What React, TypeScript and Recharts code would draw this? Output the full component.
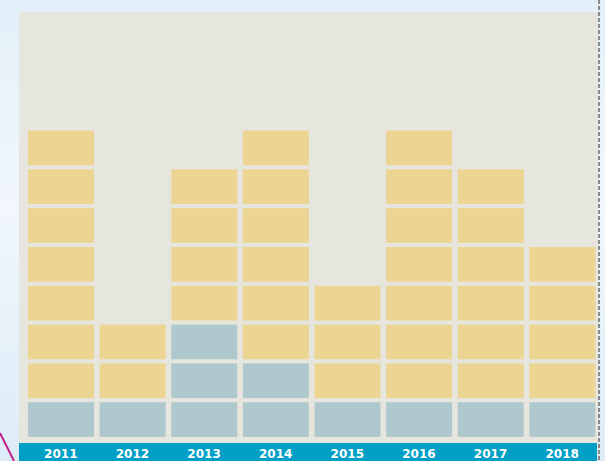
import React from "react";
import { BarChart, Bar, XAxis, YAxis } from "recharts";

const years = ["2011", "2012", "2013", "2014", "2015", "2016", "2017", "2018"];
const blueBlocks = [1, 1, 3, 2, 1, 1, 1, 1];
const yellowBlocks = [7, 2, 4, 6, 3, 7, 6, 4];

const data = years.map((y, i) => ({ year: y, blue: blueBlocks[i], yellow: yellowBlocks[i] }));

const BEIGE = "#e6e5de";
const YELLOW = "#ecd592";
const BLUE = "#afc8cd";
const STRIP = "#00a0c6";
const GAP = 4.2;

const makeBlocks = (key: string, fill: string) => (props: any) => {
  const { x, y, width, height, payload } = props;
  const n = payload[key];
  if (!n || !height) return <g />;
  const h = Math.abs(height);
  const top = height < 0 ? y + height : y;
  const unit = h / n;
  const rects = [];
  for (let i = 0; i < n; i++) {
    rects.push(
      <rect key={i} x={x} y={top + i * unit + GAP / 2} width={width} height={unit - GAP} fill={fill} />
    );
  }
  return <g>{rects}</g>;
};

const Tick = (props: any) => {
  const { x, y, payload } = props;
  return (
    <text
      x={x}
      y={y}
      dy={19.3}
      textAnchor="middle"
      fill="#ffffff"
      fontFamily="DejaVu Sans, Verdana, sans-serif"
      fontWeight="bold"
      fontSize={12}
    >
      {payload.value}
    </text>
  );
};

export default function App() {
  return (
    <div
      style={{
        position: "absolute",
        left: 0,
        top: 0,
        width: 605,
        height: 461,
        overflow: "hidden",
        background: "linear-gradient(180deg, #e3f0f9 0%, #f1f7fc 45%, #dcecf7 100%)",
      }}
    >
      <div style={{ position: "absolute", left: 19, top: 12, width: 579, height: 431, background: BEIGE }} />
      <div style={{ position: "absolute", left: 19, top: 442.7, width: 578, height: 19, background: STRIP }} />
      <svg width={605} height={461} style={{ position: "absolute", left: 0, top: 0 }}>
        <line x1={599} y1={0} x2={599} y2={461} stroke="#8a8a8a" strokeWidth={2} strokeDasharray="4 2" />
        <line x1={0} y1={433} x2={14} y2={461} stroke="#c41f8c" strokeWidth={2} />
      </svg>
      <div style={{ position: "absolute", left: 0, top: 0 }}>
        <BarChart
          width={605}
          height={461}
          data={data}
          margin={{ top: 12, left: 19, right: 7, bottom: 0 }}
          barSize={66}
        >
          <XAxis
            dataKey="year"
            height={22}
            axisLine={false}
            tickLine={false}
            tickSize={0}
            tickMargin={0}
            padding={{ left: 6, right: 0 }}
            interval={0}
            tick={<Tick />}
          />
          <YAxis hide domain={[0, 11]} />
          <Bar dataKey="blue" stackId="a" fill={BLUE} isAnimationActive={false} shape={makeBlocks("blue", BLUE)} />
          <Bar dataKey="yellow" stackId="a" fill={YELLOW} isAnimationActive={false} shape={makeBlocks("yellow", YELLOW)} />
        </BarChart>
      </div>
    </div>
  );
}
